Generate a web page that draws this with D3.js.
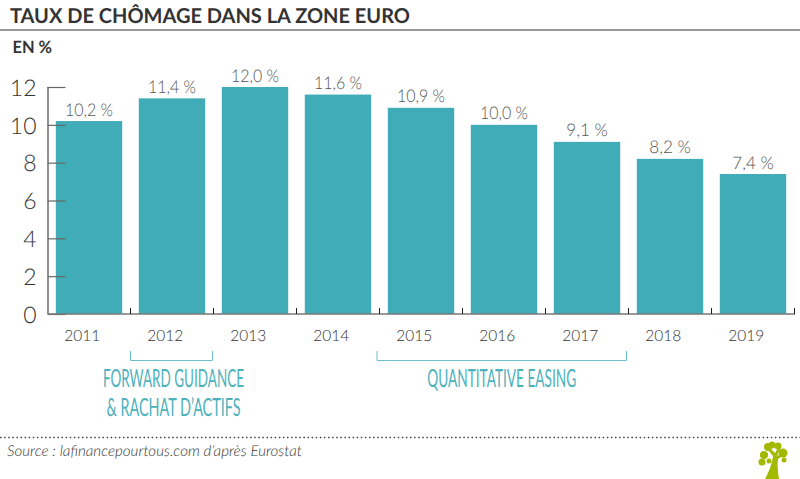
<!DOCTYPE html>
<html><head><meta charset="utf-8">
<script src="https://cdnjs.cloudflare.com/ajax/libs/d3/7.8.5/d3.min.js"></script>
<style>html,body{margin:0;padding:0;background:#fff}svg{display:block;opacity:0.999}text{font-family:Lato,sans-serif;text-rendering:geometricPrecision}</style>
</head><body><svg id="c" width="800" height="479"></svg>
<script>
const years=["2011","2012","2013","2014","2015","2016","2017","2018","2019"];
const rates=[10.2,11.4,12.0,11.6,10.9,10.0,9.1,8.2,7.4];
const yTicks=[0,2,4,6,8,10,12];
const periodLabels=[["FORWARD GUIDANCE","& RACHAT D’ACTIFS"],["QUANTITATIVE EASING"]];
const periodRanges=[["2012","2012"],["2015","2017"]];
const svg=d3.select("#c");
const teal="#40acb7",dark="#333",grey="#555";
const x=d3.scaleBand().domain(years).range([47.5,794.5]).paddingInner(0.2).paddingOuter(0.1);
const y=d3.scaleLinear().domain([0,12]).range([314,87]);
const step=x.step();
const gap=(step-x.bandwidth())/2;
const tickX=years.map(d=>x(d)+x.bandwidth()+gap);
const periodWidths=[[141,134],[149]];
const periodNudge=[[-0.5,-1.5],[-3,-2.5]];
const periodTextNudge=[2,0];

svg.append("text").attr("x",10).attr("y",23).attr("font-size",20.5).attr("font-weight",700).attr("fill",dark)
 .attr("textLength",400).attr("lengthAdjust","spacingAndGlyphs").text("TAUX DE CHÔMAGE DANS LA ZONE EURO");
svg.append("line").attr("x1",0).attr("x2",800).attr("y1",30).attr("y2",30).attr("stroke",dark).attr("stroke-width",1);
svg.append("text").attr("x",12.5).attr("y",53).attr("font-size",17).attr("font-weight",700).attr("fill",dark)
 .attr("textLength",39.5).attr("lengthAdjust","spacingAndGlyphs").text("EN %");

svg.selectAll("rect.bar").data(rates).join("rect").attr("class","bar")
 .attr("x",(d,i)=>x(years[i])).attr("width",x.bandwidth())
 .attr("y",d=>y(d)).attr("height",d=>y(0)-y(d)).attr("fill",teal);

const yAxis=svg.append("g").attr("transform","translate(47.5,0)")
 .call(d3.axisLeft(y).tickValues(yTicks).tickSize(-18).tickPadding(11).tickFormat(d=>d));
yAxis.select(".domain").attr("stroke","#222").attr("d","M0.5,87V314");
yAxis.selectAll(".tick line").attr("stroke","#666").attr("stroke-width",1.2);
yAxis.selectAll("text").attr("font-family","Lato").attr("font-weight",300).attr("font-size",23).attr("fill",dark).attr("dy","0.36em");

const base=svg.append("g");
base.append("line").attr("x1",48).attr("x2",795).attr("y1",314).attr("y2",314).attr("stroke","#777").attr("stroke-width",1.5);
base.selectAll("line.t").data(tickX).join("line").attr("class","t")
 .attr("x1",d=>d).attr("x2",d=>d).attr("y1",308).attr("y2",314).attr("stroke","#222").attr("stroke-width",1);
const xAxis=svg.append("g").attr("transform","translate(-6.8,314)")
 .call(d3.axisBottom(x).tickSize(0).tickPadding(16));
xAxis.select(".domain").remove();
xAxis.selectAll("text").attr("font-family","Lato").attr("font-weight",300).attr("font-size",15.5).attr("fill",dark);

svg.selectAll("text.val").data(rates).join("text").attr("class","val")
 .attr("x",(d,i)=>x(years[i])+x.bandwidth()/2).attr("y",d=>y(d)-5.5)
 .attr("text-anchor","middle").attr("font-size",17.5).attr("font-weight",300).attr("fill",grey)
 .attr("textLength",d=>d>=10?48:41.5).attr("lengthAdjust","spacingAndGlyphs")
 .text(d=>d.toFixed(1).replace(".",",")+" %");

periodRanges.forEach((r,k)=>{
 const x0=x(r[0])-gap+0.5+periodNudge[k][0], x1=x(r[1])+x.bandwidth()+gap+0.5+periodNudge[k][1];
 svg.append("path").attr("d",`M${x0},351V360.5H${x1}V351`).attr("fill","none").attr("stroke","#6cc0c9").attr("stroke-width",1);
 periodLabels[k].forEach((t,i)=>{
  svg.append("text").attr("x",(x0+x1)/2+periodTextNudge[k]).attr("y",387+i*29).attr("text-anchor","middle")
   .attr("font-size",25).attr("font-weight",400).attr("fill","#4db2bc")
   .attr("textLength",periodWidths[k][i]).attr("lengthAdjust","spacingAndGlyphs").text(t);
 });
});

svg.append("line").attr("x1",0).attr("x2",800).attr("y1",437.5).attr("y2",437.5).attr("stroke","#444").attr("stroke-width",1.5).attr("stroke-dasharray","1.5 2.6");
svg.append("text").attr("x",7).attr("y",456).attr("font-size",15).attr("font-style","italic").attr("font-weight",300).attr("fill",dark)
 .attr("textLength",295).attr("lengthAdjust","spacingAndGlyphs").text("Source : lafinancepourtous.com d’après Eurostat");

const g=svg.append("g").attr("fill","#a3b800");
g.append("path").attr("d","M765,479C770,470 772,463 773,456L768,450L771,449L775,453L778,448L780,449L777,456L785,452L786,454L778,459C777,466 778,472 779,479Z");
[[762,462,3.5],[764,455,4],[768,447,4],[772,445,3.5],[778,446,3.5],[783,453,4.5],[784,460,2.5],[769,461,2.5]].forEach(c=>g.append("circle").attr("cx",c[0]).attr("cy",c[1]).attr("r",c[2]));
</script></body></html>
